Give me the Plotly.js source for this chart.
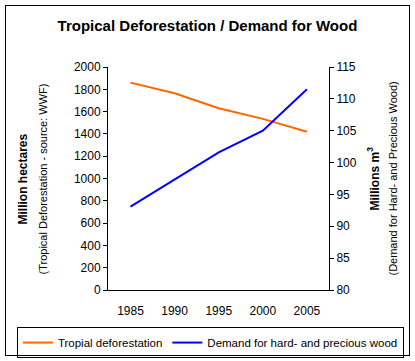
<!DOCTYPE html>
<html><head><meta charset="utf-8">
<script src="https://cdn.plot.ly/plotly-3.0.1.min.js"></script>
<style>
body{margin:0;padding:0;background:#fff;}
#wrap{position:relative;width:415px;height:361px;}
#chart{width:415px;height:361px;}
#frame{position:absolute;left:5px;top:5px;width:403px;height:349px;border:1px solid #000;pointer-events:none;}
</style>
</head><body>
<div id="wrap"><div id="chart"></div><div id="frame"></div></div>
<script>
const years = [1985, 1990, 1995, 2000, 2005];
const deforestation = [1860, 1765, 1630, 1535, 1420];
const woodDemand = [93.1, 97.4, 101.6, 105.0, 111.5];
const leftTicks = [0, 200, 400, 600, 800, 1000, 1200, 1400, 1600, 1800, 2000];
const rightTicks = [80, 85, 90, 95, 100, 105, 110, 115];

const F = 'Liberation Sans, Arial, sans-serif';
const traces = [
  {x: years, y: deforestation, type: 'scatter', mode: 'lines', name: 'Tropial deforestation',
   line: {color: '#FF6600', width: 2}},
  {x: years, y: woodDemand, type: 'scatter', mode: 'lines', name: 'Demand for hard- and precious wood',
   yaxis: 'y2', line: {color: '#0000FF', width: 2}}
];
const layout = {
  width: 415, height: 361,
  margin: {l: 5, r: 5, t: 67, b: 71, autoexpand: false},
  paper_bgcolor: '#fff', plot_bgcolor: 'rgba(0,0,0,0)',
  font: {family: F, color: '#000', size: 12},
  title: {text: '<b>Tropical Deforestation / Demand for Wood</b>', font: {size: 15, family: F},
          x: 0.5, xanchor: 'center', y: 0.93, yanchor: 'middle', xref: 'container'},
  showlegend: true,
  legend: {orientation: 'h', xref: 'container', yref: 'container', x: 0.507, xanchor: 'center',
           y: 0.094, yanchor: 'top',
           bordercolor: '#000', borderwidth: 1, font: {size: 11.5, family: F},
           itemwidth: 30, tracegroupgap: 0},
  xaxis: {domain: [0.25432, 0.8], range: [1982.45, 2007.5], tickvals: years, ticktext: years.map(String),
          showgrid: false, zeroline: false, showline: true, linecolor: '#000', linewidth: 1,
          ticks: '', ticklabelstandoff: 10, tickfont: {size: 12}},
  yaxis: {range: [0, 2000], tickvals: leftTicks, showgrid: false, zeroline: false,
          showline: true, linecolor: '#000', linewidth: 1, ticks: 'outside', ticklen: 4,
          tickcolor: '#000', tickfont: {size: 12}},
  yaxis2: {range: [80, 115], tickvals: rightTicks, overlaying: 'y', side: 'right', anchor: 'x',
           showgrid: false, zeroline: false, showline: true, linecolor: '#000', linewidth: 1,
           ticks: 'outside', ticklen: 4, tickcolor: '#000', tickfont: {size: 12}},
  annotations: [
    {text: '<b>Million hectares</b>', xref: 'paper', yref: 'paper', x: 0.0444, y: 0.5,
     textangle: -90, showarrow: false, xanchor: 'center', yanchor: 'middle', font: {size: 12}},
    {text: '(Tropical Deforestation - source: WWF)', xref: 'paper', yref: 'paper', x: 0.0938, y: 0.5,
     textangle: -90, showarrow: false, xanchor: 'center', yanchor: 'middle', font: {size: 11}},
    {text: '<b>Millions m<sup>3</sup></b>', xref: 'paper', yref: 'paper', x: 0.9086, y: 0.5,
     textangle: -90, showarrow: false, xanchor: 'center', yanchor: 'middle', font: {size: 12}},
    {text: '(Demand for Hard- and Precious Wood)', xref: 'paper', yref: 'paper', x: 0.9556, y: 0.5,
     textangle: -90, showarrow: false, xanchor: 'center', yanchor: 'middle', font: {size: 11}}
  ]
};
Plotly.newPlot('chart', traces, layout, {displayModeBar: false, staticPlot: true});
</script>
</body></html>
